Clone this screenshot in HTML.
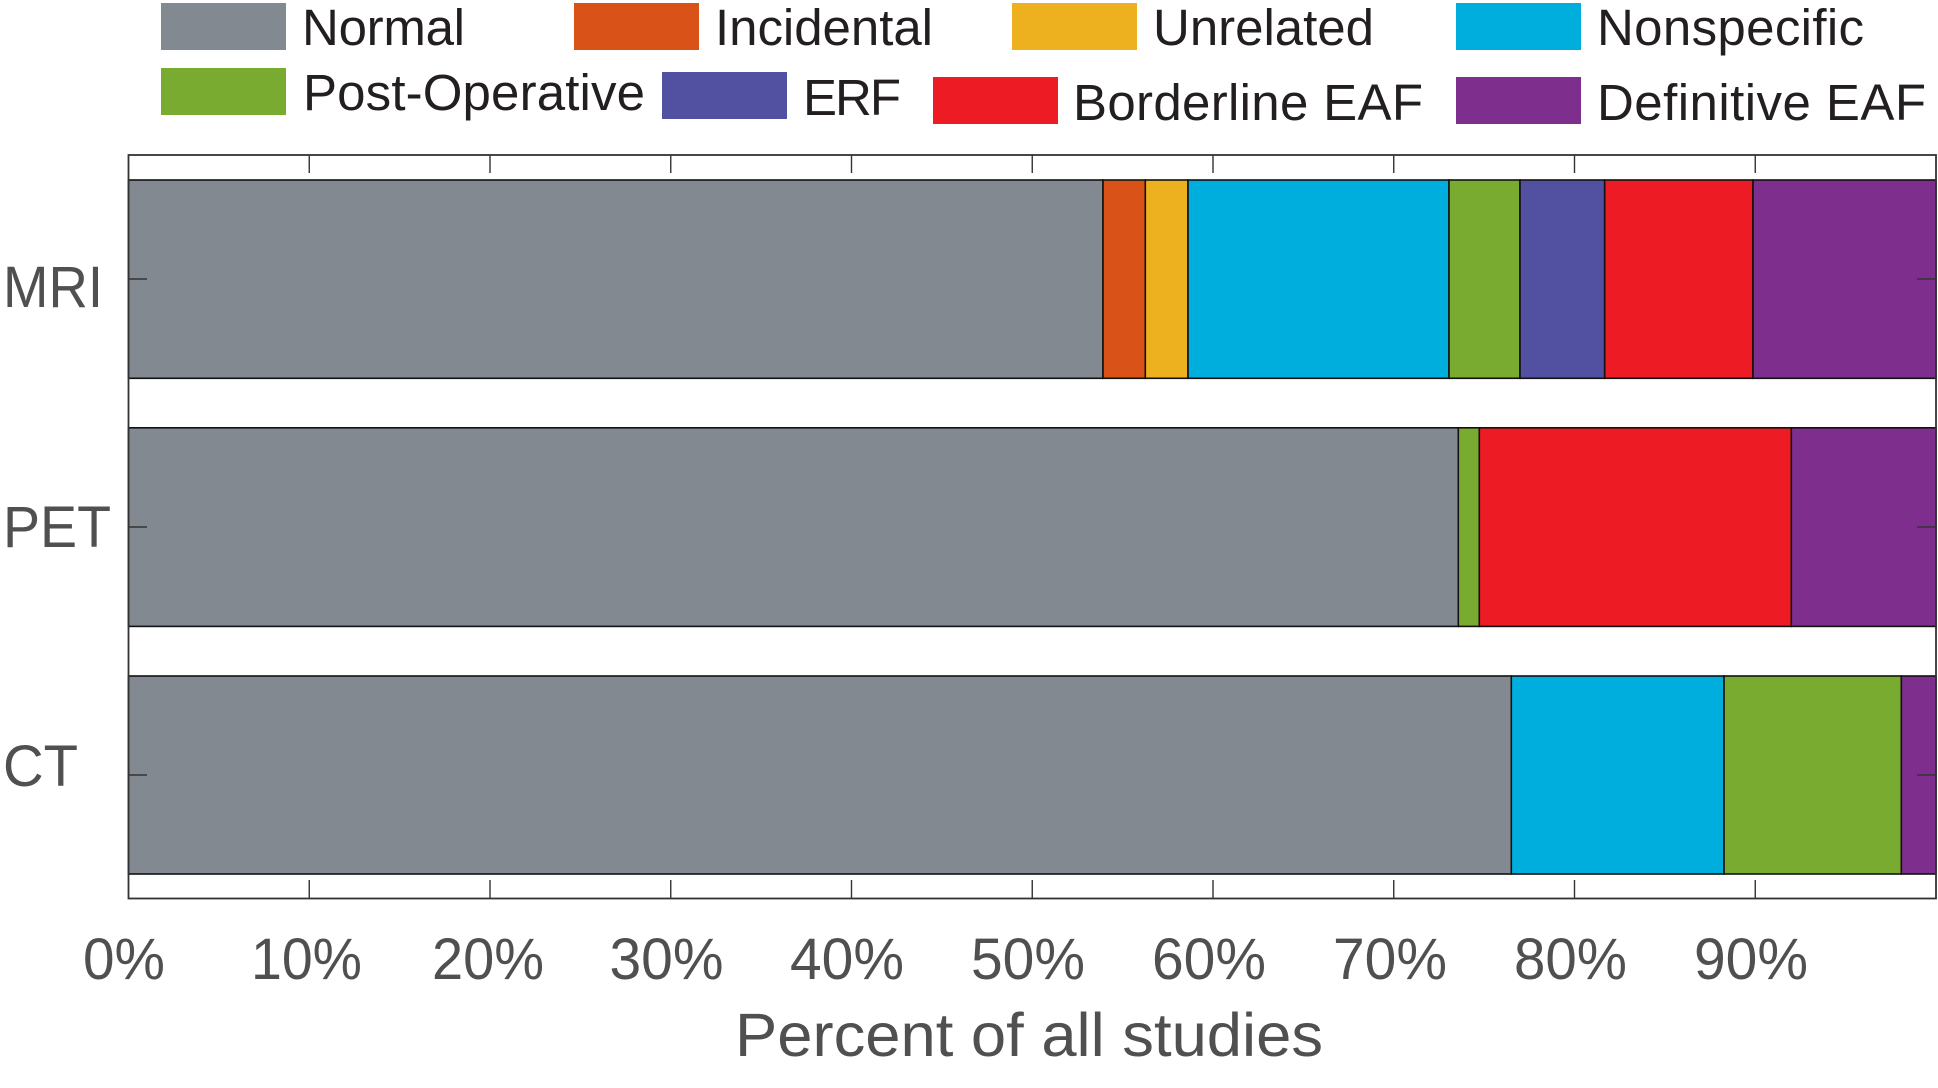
<!DOCTYPE html>
<html>
<head>
<meta charset="utf-8">
<style>
  html, body { margin: 0; padding: 0; background: #ffffff; }
  svg { display: block; }
  .ax { font-family: "Liberation Sans", Arial, Helvetica, sans-serif; fill: #505050; }
  .lg { font-family: "Liberation Sans", Arial, Helvetica, sans-serif; fill: #231f20; font-size: 51px; }
</style>
</head>
<body>
<svg width="1938" height="1088" viewBox="0 0 1938 1088" xmlns="http://www.w3.org/2000/svg">
  <rect x="0" y="0" width="1938" height="1088" fill="#ffffff"/>

  <!-- Legend -->
  <rect x="161" y="3" width="125" height="47" fill="#838991"/>
  <text class="lg" x="302" y="45" textLength="163">Normal</text>
  <rect x="574" y="3" width="125" height="47" fill="#d95319"/>
  <text class="lg" x="715" y="45" textLength="218">Incidental</text>
  <rect x="1012" y="3" width="125" height="47" fill="#edb120"/>
  <text class="lg" x="1153" y="45" textLength="221">Unrelated</text>
  <rect x="1456" y="3" width="125" height="47" fill="#00aedd"/>
  <text class="lg" x="1597" y="45" textLength="267">Nonspecific</text>

  <rect x="161" y="68" width="125" height="47" fill="#78ab30"/>
  <text class="lg" x="303" y="110" textLength="342">Post-Operative</text>
  <rect x="662" y="72" width="125" height="47" fill="#5250a0"/>
  <text class="lg" x="803" y="115" textLength="98">ERF</text>
  <rect x="933" y="77" width="125" height="47" fill="#ed1c24"/>
  <text class="lg" x="1073" y="120" textLength="350">Borderline EAF</text>
  <rect x="1456" y="77" width="125" height="47" fill="#7e2f8e"/>
  <text class="lg" x="1597" y="120" textLength="329">Definitive EAF</text>

  <!-- Axes background -->
  <rect x="128.5" y="155" width="1807.5" height="743.5" fill="#ffffff"/>

  <!-- Bars -->
  <g stroke="#111111" stroke-width="1.6">
    <!-- MRI -->
    <rect x="128.5" y="180" width="974.5" height="198.3" fill="#838991"/>
    <rect x="1103" y="180" width="42.3" height="198.3" fill="#d95319"/>
    <rect x="1145.3" y="180" width="42.7" height="198.3" fill="#edb120"/>
    <rect x="1188" y="180" width="261" height="198.3" fill="#00aedd"/>
    <rect x="1449" y="180" width="71" height="198.3" fill="#78ab30"/>
    <rect x="1520" y="180" width="84.7" height="198.3" fill="#5250a0"/>
    <rect x="1604.7" y="180" width="148.3" height="198.3" fill="#ed1c24"/>
    <rect x="1753" y="180" width="183" height="198.3" fill="#7e2f8e"/>
    <!-- PET -->
    <rect x="128.5" y="427.8" width="1329.8" height="198.6" fill="#838991"/>
    <rect x="1458.3" y="427.8" width="21" height="198.6" fill="#78ab30"/>
    <rect x="1479.3" y="427.8" width="312" height="198.6" fill="#ed1c24"/>
    <rect x="1791.3" y="427.8" width="144.7" height="198.6" fill="#7e2f8e"/>
    <!-- CT -->
    <rect x="128.5" y="676" width="1382.8" height="198" fill="#838991"/>
    <rect x="1511.3" y="676" width="212.7" height="198" fill="#00aedd"/>
    <rect x="1724" y="676" width="177.3" height="198" fill="#78ab30"/>
    <rect x="1901.3" y="676" width="34.7" height="198" fill="#7e2f8e"/>
  </g>

  <!-- Axes box -->
  <rect x="128.5" y="155" width="1807.5" height="743.5" fill="none" stroke="#333333" stroke-width="1.8"/>

  <!-- Ticks -->
  <g stroke="#333333" stroke-width="1.4">
    <!-- top ticks -->
    <line x1="309.25" y1="155" x2="309.25" y2="173"/>
    <line x1="490" y1="155" x2="490" y2="173"/>
    <line x1="670.75" y1="155" x2="670.75" y2="173"/>
    <line x1="851.5" y1="155" x2="851.5" y2="173"/>
    <line x1="1032.25" y1="155" x2="1032.25" y2="173"/>
    <line x1="1213" y1="155" x2="1213" y2="173"/>
    <line x1="1393.75" y1="155" x2="1393.75" y2="173"/>
    <line x1="1574.5" y1="155" x2="1574.5" y2="173"/>
    <line x1="1755.25" y1="155" x2="1755.25" y2="173"/>
    <!-- bottom ticks -->
    <line x1="309.25" y1="880" x2="309.25" y2="898"/>
    <line x1="490" y1="880" x2="490" y2="898"/>
    <line x1="670.75" y1="880" x2="670.75" y2="898"/>
    <line x1="851.5" y1="880" x2="851.5" y2="898"/>
    <line x1="1032.25" y1="880" x2="1032.25" y2="898"/>
    <line x1="1213" y1="880" x2="1213" y2="898"/>
    <line x1="1393.75" y1="880" x2="1393.75" y2="898"/>
    <line x1="1574.5" y1="880" x2="1574.5" y2="898"/>
    <line x1="1755.25" y1="880" x2="1755.25" y2="898"/>
    <!-- left y ticks -->
    <line x1="128.5" y1="279" x2="147" y2="279"/>
    <line x1="128.5" y1="527" x2="147" y2="527"/>
    <line x1="128.5" y1="775" x2="147" y2="775"/>
    <!-- right y ticks -->
    <line x1="1917" y1="279" x2="1936" y2="279"/>
    <line x1="1917" y1="527" x2="1936" y2="527"/>
    <line x1="1917" y1="775" x2="1936" y2="775"/>
  </g>

  <!-- Y labels -->
  <text class="ax" x="3" y="307" font-size="58" textLength="100" lengthAdjust="spacingAndGlyphs">MRI</text>
  <text class="ax" x="3" y="547" font-size="58" textLength="108" lengthAdjust="spacingAndGlyphs">PET</text>
  <text class="ax" x="3" y="786" font-size="58" textLength="75" lengthAdjust="spacingAndGlyphs">CT</text>

  <!-- X tick labels -->
  <g class="ax" font-size="58">
    <text x="83" y="979" textLength="82" lengthAdjust="spacingAndGlyphs">0%</text>
    <text x="251" y="979" textLength="111" lengthAdjust="spacingAndGlyphs">10%</text>
    <text x="432" y="979" textLength="112" lengthAdjust="spacingAndGlyphs">20%</text>
    <text x="609.5" y="979" textLength="114" lengthAdjust="spacingAndGlyphs">30%</text>
    <text x="790" y="979" textLength="114" lengthAdjust="spacingAndGlyphs">40%</text>
    <text x="971" y="979" textLength="114" lengthAdjust="spacingAndGlyphs">50%</text>
    <text x="1152" y="979" textLength="114" lengthAdjust="spacingAndGlyphs">60%</text>
    <text x="1333" y="979" textLength="114" lengthAdjust="spacingAndGlyphs">70%</text>
    <text x="1514" y="979" textLength="113" lengthAdjust="spacingAndGlyphs">80%</text>
    <text x="1694" y="979" textLength="114" lengthAdjust="spacingAndGlyphs">90%</text>
  </g>

  <!-- X label -->
  <text class="ax" x="735" y="1056" font-size="61" textLength="588" lengthAdjust="spacingAndGlyphs">Percent of all studies</text>
</svg>
</body>
</html>
